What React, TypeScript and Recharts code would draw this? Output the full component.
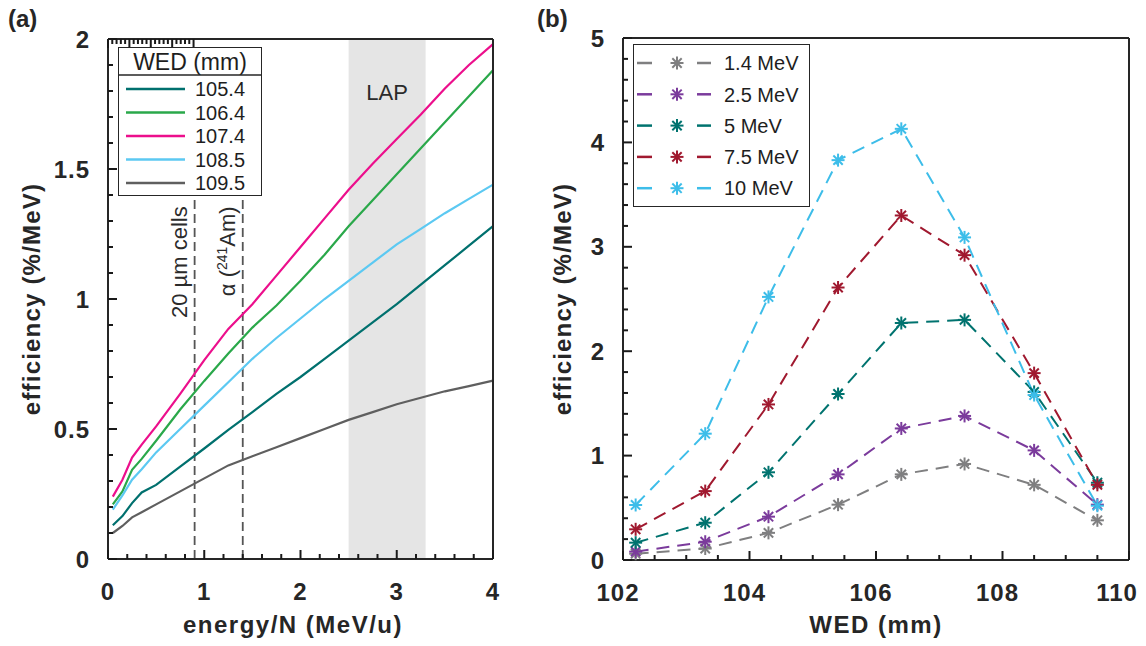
import React from 'react';
import { LineChart, Line, XAxis, YAxis, ReferenceArea, ReferenceLine, Legend } from 'recharts';

// (a) efficiency vs energy per nucleon, one curve per water-equivalent depth
const energyPerN = [0.05, 0.15, 0.25, 0.35, 0.5, 0.75, 1, 1.25, 1.5, 1.75, 2, 2.25, 2.5, 2.75, 3, 3.25, 3.5, 3.75, 4];
const eff105_4 = [0.13, 0.165, 0.215, 0.256, 0.285, 0.355, 0.425, 0.497, 0.565, 0.635, 0.7, 0.77, 0.84, 0.91, 0.98, 1.055, 1.13, 1.205, 1.28];
const eff106_4 = [0.21, 0.26, 0.343, 0.385, 0.455, 0.575, 0.685, 0.79, 0.89, 0.975, 1.07, 1.17, 1.28, 1.38, 1.48, 1.58, 1.68, 1.78, 1.88];
const eff107_4 = [0.24, 0.305, 0.39, 0.44, 0.51, 0.635, 0.765, 0.885, 0.98, 1.09, 1.2, 1.31, 1.42, 1.52, 1.615, 1.71, 1.81, 1.9, 1.98];
const eff108_5 = [0.19, 0.245, 0.305, 0.345, 0.41, 0.5, 0.59, 0.68, 0.77, 0.85, 0.925, 1.0, 1.07, 1.14, 1.21, 1.27, 1.33, 1.385, 1.44];
const eff109_5 = [0.1, 0.127, 0.16, 0.18, 0.21, 0.26, 0.31, 0.36, 0.395, 0.43, 0.465, 0.5, 0.535, 0.565, 0.595, 0.62, 0.645, 0.665, 0.686];
const wedNames = ['105.4', '106.4', '107.4', '108.5', '109.5'];
const wedSeries = [eff105_4, eff106_4, eff107_4, eff108_5, eff109_5];
const wedColors = ['#00706e', '#2aa84a', '#ec0f8c', '#5cc9f2', '#5f5f5f'];

// (b) efficiency vs WED, one curve per energy
const wedMm = [102.2, 103.3, 104.3, 105.4, 106.4, 107.4, 108.5, 109.5];
const effAt1_4 = [0.06, 0.11, 0.26, 0.53, 0.82, 0.92, 0.72, 0.38];
const effAt2_5 = [0.08, 0.175, 0.415, 0.82, 1.26, 1.38, 1.05, 0.53];
const effAt5 = [0.166, 0.357, 0.84, 1.59, 2.27, 2.3, 1.61, 0.74];
const effAt7_5 = [0.294, 0.66, 1.49, 2.61, 3.3, 2.92, 1.79, 0.72];
const effAt10 = [0.527, 1.21, 2.52, 3.83, 4.13, 3.09, 1.58, 0.52];
const energyNames = ['1.4 MeV', '2.5 MeV', '5 MeV', '7.5 MeV', '10 MeV'];
const energySeries = [effAt1_4, effAt2_5, effAt5, effAt7_5, effAt10];
const energyColors = ['#7f7f80', '#7b3b9c', '#00736f', '#a0192f', '#3dbde9'];

// axis ticks
const xMajorA = [0, 1, 2, 3, 4];
const yMajorA = [0, 0.5, 1, 1.5, 2];
const xMajorB = [102, 104, 106, 108, 110];
const yMajorB = [0, 1, 2, 3, 4, 5];
const xTicksA = Array.from({ length: 21 }, (_, i) => Math.round(i * 2) / 10);
const yTicksA = Array.from({ length: 21 }, (_, i) => i / 10);
const xTicksB = Array.from({ length: 17 }, (_, i) => 102 + i / 2);
const yTicksB = Array.from({ length: 26 }, (_, i) => Math.round(i * 2) / 10);

const dataA = energyPerN.map((e, i) => {
  const row: Record<string, number> = { e };
  wedSeries.forEach((s, k) => (row['w' + k] = s[i]));
  return row;
});
const dataB = wedMm.map((w, i) => {
  const row: Record<string, number> = { w };
  energySeries.forEach((s, k) => (row['e' + k] = s[i]));
  return row;
});

const INK = '#262626';
const FONT = '"Liberation Sans", Arial, Helvetica, sans-serif';

type Side = 'bottom' | 'top' | 'left' | 'right';

// ticks point into the plot on all four sides, labels only on bottom/left majors
function makeTick(side: Side, majors: number[], showLabels: boolean, shift?: (v: number) => number) {
  return (p: any) => {
    const { x, y, payload, index } = p;
    const v = payload.value;
    const isMajor = majors.some((m) => Math.abs(m - v) < 1e-9);
    const len = isMajor ? 9 : 5;
    let x2 = x;
    let y2 = y;
    if (side === 'bottom') y2 = y - len;
    if (side === 'top') y2 = y + len;
    if (side === 'left') x2 = x + len;
    if (side === 'right') x2 = x - len;
    let label = null;
    if (showLabels && isMajor) {
      const common = { fill: INK, fontSize: 24, fontWeight: 700, fontFamily: FONT, letterSpacing: 1 };
      if (side === 'bottom')
        label = (
          <text x={x + (shift ? shift(v) : 0)} y={y + 32} dy="0.36em" textAnchor="middle" {...common}>
            {String(v)}
          </text>
        );
      if (side === 'left')
        label = (
          <text x={x - 18} y={y} dy="0.36em" textAnchor="end" {...common}>
            {String(v)}
          </text>
        );
    }
    return (
      <g key={`${side}-${index}`}>
        <line x1={x} y1={y} x2={x2} y2={y2} stroke="#1a1a1a" strokeWidth={2} />
        {label}
      </g>
    );
  };
}

function Asterisk({ cx, cy, color, r = 6.5 }: { cx: number; cy: number; color: string; r?: number }) {
  const d = r * 0.72;
  return (
    <g stroke={color} strokeWidth={2}>
      <line x1={cx - r} y1={cy} x2={cx + r} y2={cy} />
      <line x1={cx} y1={cy - r} x2={cx} y2={cy + r} />
      <line x1={cx - d} y1={cy - d} x2={cx + d} y2={cy + d} />
      <line x1={cx - d} y1={cy + d} x2={cx + d} y2={cy - d} />
    </g>
  );
}

function WedLegend() {
  return (
    <div style={{ width: 144, height: 149, border: `1.5px solid ${INK}`, background: '#fff', fontFamily: FONT, color: '#1e1e1e', boxSizing: 'border-box' }}>
      <svg width={142} height={146} style={{ display: 'block' }}>
        <text x={71} y={14} dy="0.36em" textAnchor="middle" fontSize={23} fill="#1e1e1e">WED (mm)</text>
        <line x1={0} y1={27} x2={142} y2={27} stroke={INK} strokeWidth={1.5} />
        {wedNames.map((n, i) => (
          <g key={n}>
            <line x1={7} y1={41 + i * 23.5} x2={66} y2={41 + i * 23.5} stroke={wedColors[i]} strokeWidth={2.5} />
            <text x={76} y={41 + i * 23.5} dy="0.36em" fontSize={20} fill="#1e1e1e">{n}</text>
          </g>
        ))}
      </svg>
    </div>
  );
}

function EnergyLegend() {
  return (
    <div style={{ width: 177, height: 163, border: `1.5px solid ${INK}`, background: '#fff', fontFamily: FONT, boxSizing: 'border-box' }}>
      <svg width={174} height={160} style={{ display: 'block' }}>
        {energyNames.map((n, i) => {
          const y = 18 + i * 31.3;
          return (
            <g key={n}>
              <line x1={3} y1={y} x2={18} y2={y} stroke={energyColors[i]} strokeWidth={2.5} />
              <Asterisk cx={43} cy={y} color={energyColors[i]} />
              <line x1={63} y1={y} x2={77} y2={y} stroke={energyColors[i]} strokeWidth={2.5} />
              <text x={90} y={y} dy="0.36em" fontSize={20} fill="#1e1e1e">{n}</text>
            </g>
          );
        })}
      </svg>
    </div>
  );
}

function VerticalNote({ viewBox, children }: any) {
  const x = viewBox.x - 8;
  const y = viewBox.y + 10;
  return (
    <text x={x} y={y} transform={`rotate(-90 ${x} ${y})`} textAnchor="end" fontSize={22} fill="#2b2b2b" fontFamily={FONT}>
      {children}
    </text>
  );
}

const axisLine = { stroke: INK, strokeWidth: 2 };

function PanelA() {
  return (
    <LineChart width={520} height={646} data={dataA} margin={{ top: 38, right: 26, bottom: 86, left: 107 }}>
      <ReferenceArea x1={2.5} x2={3.3} fill="#e5e5e5" fillOpacity={1} stroke="none"
        label={{ value: 'LAP', position: 'insideTop', offset: 45, fill: '#2b2b2b', fontSize: 22, fontFamily: FONT }} />
      <ReferenceLine segment={[{ x: 0.9, y: 0 }, { x: 0.9, y: 1.395 }]} stroke="#555" strokeWidth={1.8} strokeDasharray="9 5"
        label={(p: any) => <VerticalNote viewBox={p.viewBox}>20 µm cells</VerticalNote>} />
      <ReferenceLine segment={[{ x: 1.4, y: 0 }, { x: 1.4, y: 1.395 }]} stroke="#555" strokeWidth={1.8} strokeDasharray="9 5"
        label={(p: any) => (
          <VerticalNote viewBox={p.viewBox}>
            α (<tspan fontSize={14} dy={-8}>241</tspan>
            <tspan dy={8}>Am)</tspan>
          </VerticalNote>
        )} />
      <XAxis dataKey="e" type="number" domain={[0, 4]} ticks={xTicksA} interval={0} height={1} tickSize={0} tickMargin={0}
        tickLine={false} axisLine={axisLine} tick={makeTick('bottom', xMajorA, true)} />
      <XAxis xAxisId="top" orientation="top" type="number" domain={[0, 4]} ticks={xTicksA} interval={0} height={1} tickSize={0}
        tickMargin={0} tickLine={false} axisLine={axisLine} tick={makeTick('top', xMajorA, false)} />
      <YAxis type="number" domain={[0, 2]} ticks={yTicksA} interval={0} width={1} tickSize={0} tickMargin={0} tickLine={false}
        axisLine={axisLine} tick={makeTick('left', yMajorA, true)} />
      <YAxis yAxisId="right" orientation="right" type="number" domain={[0, 2]} ticks={yTicksA} interval={0} width={1} tickSize={0}
        tickMargin={0} tickLine={false} axisLine={axisLine} tick={makeTick('right', yMajorA, false)} />
      {wedNames.map((n, k) => (
        <Line key={n} dataKey={'w' + k} name={n} type="linear" stroke={wedColors[k]} strokeWidth={2.2} dot={false} isAnimationActive={false} />
      ))}
      <Legend layout="vertical" align="center" verticalAlign="middle" wrapperStyle={{ left: 118, top: 47, width: 144, height: 149 }} content={() => <WedLegend />} />
    </LineChart>
  );
}

function PanelB() {
  return (
    <LineChart width={606} height={646} data={dataB} margin={{ top: 37, right: 16, bottom: 85, left: 82 }}>
      <XAxis dataKey="w" type="number" domain={[102, 110]} ticks={xTicksB} interval={0} height={1} tickSize={0} tickMargin={0}
        tickLine={false} axisLine={axisLine} tick={makeTick('bottom', xMajorB, true, (v) => (v === 110 ? -12 : -5))} />
      <XAxis xAxisId="top" orientation="top" type="number" domain={[102, 110]} ticks={xTicksB} interval={0} height={1} tickSize={0}
        tickMargin={0} tickLine={false} axisLine={axisLine} tick={makeTick('top', xMajorB, false)} />
      <YAxis type="number" domain={[0, 5]} ticks={yTicksB} interval={0} width={1} tickSize={0} tickMargin={0} tickLine={false}
        axisLine={axisLine} tick={makeTick('left', yMajorB, true)} />
      <YAxis yAxisId="right" orientation="right" type="number" domain={[0, 5]} ticks={yTicksB} interval={0} width={1} tickSize={0}
        tickMargin={0} tickLine={false} axisLine={axisLine} tick={makeTick('right', yMajorB, false)} />
      {energyNames.map((n, k) => (
        <Line key={n} dataKey={'e' + k} name={n} type="linear" stroke={energyColors[k]} strokeWidth={2} strokeDasharray="13 8"
          isAnimationActive={false}
          dot={(p: any) => <Asterisk key={`${n}-${p.index}`} cx={p.cx} cy={p.cy} color={energyColors[k]} />} />
      ))}
      <Legend layout="vertical" align="center" verticalAlign="middle" wrapperStyle={{ left: 93, top: 44, width: 177, height: 163 }} content={() => <EnergyLegend />} />
    </LineChart>
  );
}

export default function App() {
  const bold = { fontFamily: FONT, fontWeight: 700, fill: INK };
  return (
    <div style={{ position: 'absolute', left: 0, top: 0, width: 1146, height: 646, background: '#fff', fontFamily: FONT }}>
      <div style={{ position: 'absolute', left: 0, top: 0 }}>
        <PanelA />
      </div>
      <div style={{ position: 'absolute', left: 540, top: 0 }}>
        <PanelB />
      </div>
      <svg width={1146} height={646} style={{ position: 'absolute', left: 0, top: 0, pointerEvents: 'none' }}>
        <text x={8} y={27} fontSize={24} {...bold}>(a)</text>
        <text x={537} y={27} fontSize={24} {...bold}>(b)</text>
        <text x={293} y={624} dy="0.36em" textAnchor="middle" fontSize={24} letterSpacing={1.5} {...bold}>energy/N (MeV/u)</text>
        <text x={876} y={624} dy="0.36em" textAnchor="middle" fontSize={24} letterSpacing={1.5} {...bold}>WED (mm)</text>
        <text x={31} y={299} dy="0.36em" textAnchor="middle" fontSize={24} letterSpacing={1.2} transform="rotate(-90 31 299)" {...bold}>
          efficiency (%/MeV)
        </text>
        <text x={562} y={299} dy="0.36em" textAnchor="middle" fontSize={24} letterSpacing={1.2} transform="rotate(-90 562 299)" {...bold}>
          efficiency (%/MeV)
        </text>
      </svg>
    </div>
  );
}
